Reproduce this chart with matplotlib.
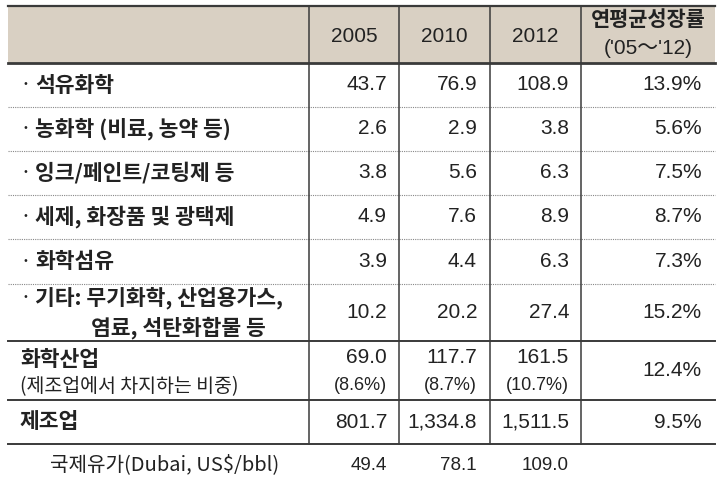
import matplotlib
matplotlib.use("Agg")
import matplotlib.pyplot as plt

plt.rcParams['font.family'] = ['Noto Sans CJK KR', 'DejaVu Sans']

# table data
years = ['2005', '2010', '2012']
growth_head = ['연평균성장률', "('05～'12)"]
labels = [
    '· 석유화학',
    '· 농화학 (비료, 농약 등)',
    '· 잉크/페인트/코팅제 등',
    '· 세제, 화장품 및 광택제',
    '· 화학섬유',
    ['· 기타: 무기화학, 산업용가스,', '염료, 석탄화합물 등'],
    ['화학산업', '(제조업에서 차지하는 비중)'],
    '제조업',
]
v2005 = [43.7, 2.6, 3.8, 4.9, 3.9, 10.2, 69.0, 801.7]
v2010 = [76.9, 2.9, 5.6, 7.6, 4.4, 20.2, 117.7, 1334.8]
v2012 = [108.9, 3.8, 6.3, 8.9, 6.3, 27.4, 161.5, 1511.5]
growth = [13.9, 5.6, 7.5, 8.7, 7.3, 15.2, 12.4, 9.5]
share = [8.6, 8.7, 10.7]          # 화학산업 share of 제조업 (%)
oil_label = '국제유가(Dubai, US$/bbl)'
oil = [49.4, 78.1, 109.0]

# layout (pixels)
W, H = 724, 483
x0, x1 = 8, 715
col_x = [309, 399, 490, 581]
num_right = [387, 477, 569]
growth_right = 702
header = (6, 63)
row_edges = [63, 107, 151, 195, 239, 284, 341, 400, 444]
oil_y = 465
dotted_until = 5  # dotted separators after the first 5 rows

line_c = '#3a3a3a'
text_c = '#222222'
head_bg = '#d9d0c3'
num_font = ['Liberation Sans', 'Noto Sans CJK KR']
ko_size = 15.5
num_size = 15

fig = plt.figure(figsize=(W / 100, H / 100), dpi=100)
ax = fig.add_axes([0, 0, 1, 1])
ax.set_xlim(0, W)
ax.set_ylim(H, 0)
ax.axis('off')

# header band
ax.fill_between([x0, x1], header[0], header[1], color=head_bg, lw=0)
ax.plot([x0, x1], [header[0]] * 2, color=line_c, lw=1.6)
ax.plot([x0, x1], [header[1]] * 2, color=line_c, lw=2.0)

for j, yr in enumerate(years):
    cx = (col_x[j] + col_x[j + 1]) / 2
    ax.text(cx, 37, yr, ha='center', va='center', fontsize=num_size,
            family=num_font, color=text_c)
gx = (col_x[3] + x1) / 2
ax.text(gx, 19, growth_head[0], ha='center', va='center', fontsize=15,
        weight='bold', color=text_c)
ax.text(gx, 48, growth_head[1], ha='center', va='center', fontsize=num_size,
        family=num_font, color=text_c)

# row separators
for i, y in enumerate(row_edges[1:]):
    if i < dotted_until:
        ax.plot([x0, x1], [y, y], color='#888888', lw=0.8, ls=(0, (1, 1)))
    else:
        ax.plot([x0, x1], [y, y], color=line_c, lw=1.4)

# vertical lines
for cx in col_x:
    ax.plot([cx, cx], [header[0], row_edges[-1]], color=line_c, lw=1.1)


def fmt(v):
    return f'{v:,.1f}'


def label(x, y, s, size=ko_size, weight='bold'):
    # small light bullet, then the label text
    if s.startswith('· '):
        ax.text(x, y, '·', ha='left', va='center', fontsize=size,
                color=text_c)
        x, s = x + 15, s[2:]
    ax.text(x, y, s, ha='left', va='center', fontsize=size,
            weight=weight, color=text_c)


for i, lab in enumerate(labels):
    top, bot = row_edges[i], row_edges[i + 1]
    cy = (top + bot) / 2
    if isinstance(lab, list):
        if i == 5:
            label(20, cy - 15, lab[0])
            label(91, cy + 15, lab[1])
        else:
            label(20, cy - 11, lab[0])
            label(20, cy + 16, lab[1], size=14, weight='normal')
    else:
        label(20, cy, lab)

    vals = [v2005[i], v2010[i], v2012[i]]
    for j, v in enumerate(vals):
        if i == 6:
            ax.text(num_right[j], cy - 13, fmt(v), ha='right', va='center',
                    fontsize=num_size, family=num_font, color=text_c)
            ax.text(num_right[j], cy + 15, f'({share[j]:.1f}%)', ha='right',
                    va='center', fontsize=13, family=num_font, color=text_c)
        else:
            ax.text(num_right[j], cy, fmt(v), ha='right', va='center',
                    fontsize=num_size, family=num_font, color=text_c)
    ax.text(growth_right, cy, f'{growth[i]:.1f}%', ha='right', va='center',
            fontsize=num_size, family=num_font, color=text_c)

# oil price row (no box)
ax.text(50, oil_y, oil_label, ha='left', va='center', fontsize=14.5,
        color=text_c)
for j, v in enumerate(oil):
    ax.text(num_right[j], oil_y, fmt(v), ha='right', va='center',
            fontsize=13.5, family=num_font, color=text_c)

fig.savefig('out.png', dpi=100)
